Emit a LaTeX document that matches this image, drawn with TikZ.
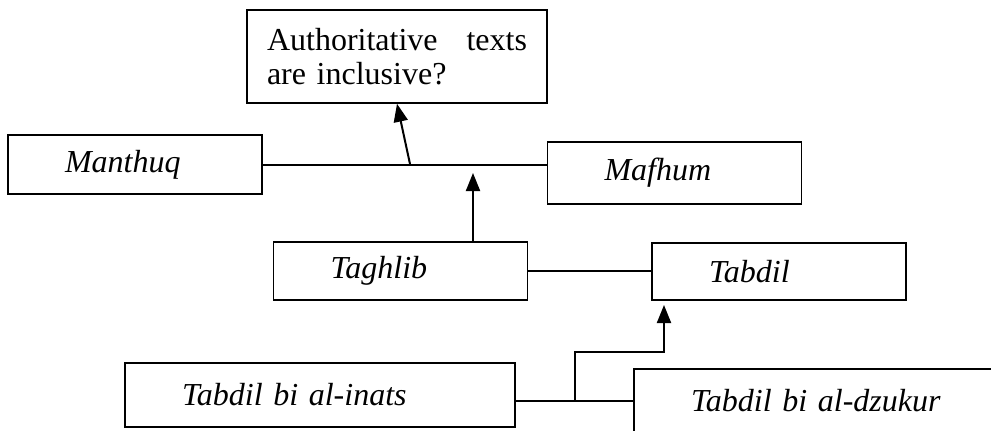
\documentclass[tikz,border=0pt]{standalone}
\usepackage{fontspec}
\setmainfont{Liberation Serif}
\usetikzlibrary{arrows.meta}
\begin{document}
\begin{tikzpicture}[x=0.5pt,y=-0.5pt,
  box/.style={draw,line width=0.75pt,inner xsep=28.5pt,inner ysep=0pt,text width=70pt,align=left,minimum height=#1,font=\fontsize{16}{17}\selectfont\itshape},
  box/.default=29.5pt,
  link/.style={line width=1pt},
  arr/.style={line width=1pt,-{Triangle[width=7pt,length=9pt]}}]
\clip (0,0) rectangle (991,430);

% Question
\node[draw,line width=0.75pt,inner xsep=10pt,inner ysep=0pt,text width=130pt,align=left,minimum height=46.5pt,font=\fontsize{16}{17}\selectfont] (auth) at (397,56.5) {Authoritative\hfill texts\\are inclusive?};

% Boxes
\node[box] (manthuq) at (135,164.5) {Manthuq};
\node[box=31pt] (mafhum) at (674.5,173) {Mafhum};
\node[box=29pt] (taghlib) at (400.5,271) {Taghlib};
\node[box=28.5pt] (tabdil) at (779,271.5) {Tabdil};
\node[box=32pt,text width=138pt] (inats) at (320,395) {Tabdil bi al-inats};
\node[box=32pt,text width=138pt] (dzukur) at (829,401) {Tabdil bi al-dzukur};

% Links
\draw[link] (manthuq.east) -- (manthuq.east -| mafhum.west);
\coordinate (j1) at (410,164);
\draw[arr] (j1) -- (auth.south);
\coordinate (j2) at (473,173);
\draw[arr] (taghlib.north -| j2) -- (j2);
\draw[link] (taghlib.east) -- (taghlib.east -| tabdil.west);
\draw[link] (inats.east |- dzukur.west) -- (dzukur.west);
\coordinate (j3) at (575,401);
\coordinate (t3) at (664,305);
\draw[arr] (j3) -- ++(0,-49) -| (t3);
\end{tikzpicture}
\end{document}
